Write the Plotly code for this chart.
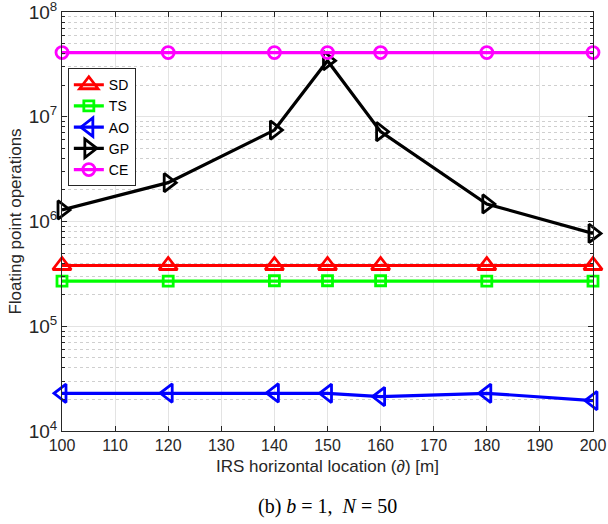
import plotly.graph_objects as go

# IRS horizontal location [m]
locations = [100, 120, 140, 150, 160, 180, 200]

# Floating point operations per scheme
flops_sd = [3.8e5, 3.8e5, 3.8e5, 3.8e5, 3.8e5, 3.8e5, 3.8e5]
flops_ts = [2.7e5, 2.7e5, 2.72e5, 2.72e5, 2.72e5, 2.7e5, 2.7e5]
flops_ao = [2.29e4, 2.3e4, 2.31e4, 2.29e4, 2.13e4, 2.29e4, 1.95e4]
flops_gp = [1.29e6, 2.35e6, 7.46e6, 3.43e7, 7.2e6, 1.47e6, 7.7e5]
flops_ce = [4.1e7, 4.1e7, 4.1e7, 4.1e7, 4.1e7, 4.1e7, 4.1e7]

x_ticks = list(range(100, 201, 10))
y_tick_vals = [1e4, 1e5, 1e6, 1e7, 1e8]
y_tick_text = ["10<sup>4</sup>", "10<sup>5</sup>", "10<sup>6</sup>",
               "10<sup>7</sup>", "10<sup>8</sup>"]
# minor decade subdivisions 2..9 x 10^k
y_minor_vals = [m * 10 ** k for k in range(4, 8) for m in range(2, 10)]

series = [
    ("SD", flops_sd, "#ff0000", "triangle-up-open", 16),
    ("TS", flops_ts, "#00ff00", "square-open", 10),
    ("AO", flops_ao, "#0000ff", "triangle-left-open", 16),
    ("GP", flops_gp, "#000000", "triangle-right-open", 16),
    ("CE", flops_ce, "#ff00ff", "circle-open", 12),
]

fig = go.Figure()
for name, vals, color, symbol, size in series:
    fig.add_trace(go.Scatter(
        x=locations, y=vals, name=name, mode="lines+markers",
        line=dict(color=color, width=3.2),
        marker=dict(symbol=symbol, size=size, color=color,
                    line=dict(color=color, width=2.8)),
        cliponaxis=False,
    ))

axis_color = "#262626"
grid_major = "#e3e3e3"
grid_minor = "#cfcfcf"

fig.update_layout(
    width=608, height=524,
    margin=dict(l=62, r=15, t=12, b=93),
    paper_bgcolor="white", plot_bgcolor="white",
    font=dict(family="Liberation Sans, Arial, sans-serif", size=16, color=axis_color),
    showlegend=True,
    legend=dict(
        x=0.011, y=0.866, xanchor="left", yanchor="top",
        bgcolor="white", bordercolor=axis_color, borderwidth=1,
        font=dict(size=14, color="#000000"),
        tracegroupgap=0, itemwidth=30,
    ),
    xaxis=dict(
        range=[100, 200], tickvals=x_ticks, automargin=False,
        showline=True, linecolor=axis_color, linewidth=1, mirror="ticks",
        ticks="inside", ticklen=5, tickcolor=axis_color,
        showgrid=True, gridcolor=grid_major, gridwidth=1,
        zeroline=False, tickfont=dict(size=16),
        title=dict(text="IRS horizontal location (<i>∂</i>) [m]", standoff=6,
                   font=dict(size=17, color=axis_color)),
    ),
    yaxis=dict(
        type="log", range=[3.99999, 8.00001], automargin=False,
        tickvals=y_tick_vals, ticktext=y_tick_text,
        ticklabeloverflow="allow",
        showline=True, linecolor=axis_color, linewidth=1, mirror="ticks",
        ticks="inside", ticklen=5, tickcolor=axis_color,
        showgrid=True, gridcolor=grid_major, gridwidth=1,
        zeroline=False, tickfont=dict(size=19),
        minor=dict(tickvals=y_minor_vals, ticks="inside", ticklen=3,
                   tickcolor=axis_color, showgrid=True, gridcolor=grid_minor,
                   griddash="dot", gridwidth=1),
        title=dict(text="Floating point operations", standoff=2,
                   font=dict(size=17, color=axis_color)),
    ),
)

fig.add_annotation(
    text="(b) <i>b</i> = 1,  <i>N</i> = 50",
    xref="paper", yref="paper", x=0.5, y=-0.179,
    xanchor="center", yanchor="middle", showarrow=False,
    font=dict(family="Liberation Serif, Times New Roman, serif", size=20, color="#000000"),
)

fig.write_html("out.html")
